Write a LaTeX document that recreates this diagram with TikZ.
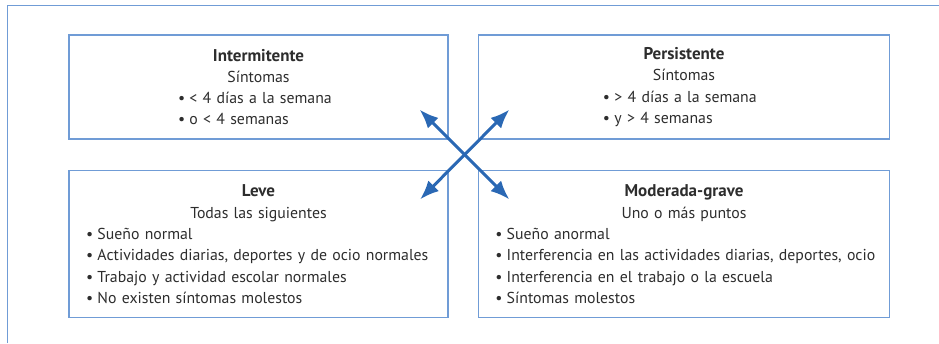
\documentclass[tikz,border=0pt]{standalone}
\usepackage{fontspec}
\setmainfont{PT Sans}
\usepackage{tikz}
\usepackage{xcolor}
\usetikzlibrary{arrows.meta}
\setlength{\parindent}{0pt}
\definecolor{boxblue}{RGB}{112,156,214}
\definecolor{arrowblue}{RGB}{42,104,180}
\definecolor{textgray}{RGB}{45,45,45}
\newcommand{\punto}{\hspace*{11pt}\makebox[11.5pt][l]{\textbullet}}
\newcommand{\titulo}[1]{{\fontsize{17}{21.3}\selectfont\bfseries #1}}

\begin{document}
\begin{tikzpicture}[-,>={Latex[length=19pt,width=15pt]},node distance=425.5pt,
                    box node/.style={rectangle,draw=boxblue,line width=1.2pt,inner sep=0pt,inner xsep=6pt,
                                     text=textgray,align=left,font=\fontsize{15.8}{21.3}\selectfont}]

  \useasboundingbox (0,0) rectangle (939pt,-343pt);
  \draw[boxblue,line width=1.2pt] (7.5pt,-343pt) -- (7.5pt,-5.5pt) -- (939pt,-5.5pt);

  \node[box node,text width=367pt,minimum height=104pt] (1) at (258.5pt,-87pt)
    {{\centering\titulo{Intermitente}\\Síntomas\par}
     {\leftskip=92pt \punto< 4 días a la semana\\\punto o < 4 semanas\par}};
  \node[box node,text width=399.5pt,minimum height=104pt] (2) [right of=1]
    {{\centering\titulo{Persistente}\\Síntomas\par}
     {\leftskip=107.7pt \punto> 4 días a la semana\\\punto y > 4 semanas\par}};
  \node[box node,text width=367pt,minimum height=147pt] (3) [below of=1,node distance=157.2pt]
    {{\centering\titulo{Leve}\\Todas las siguientes\par}
     \punto Sueño normal\\
     \punto Actividades diarias, deportes y de ocio normales\\
     \punto Trabajo y actividad escolar normales\\
     \punto No existen síntomas molestos};
  \node[box node,text width=399.5pt,minimum height=147pt] (4) [right of=3]
    {{\centering\titulo{Moderada-grave}\\Uno o más puntos\par}
     \punto Sueño anormal\\
     \punto Interferencia en las actividades diarias, deportes, ocio\\
     \punto Interferencia en el trabajo o la escuela\\
     \punto Síntomas molestos};

  \coordinate (a) at ([xshift=-29pt,yshift=30pt]1.south east);
  \coordinate (b) at ([xshift=31.7pt,yshift=30pt]2.south west);
  \coordinate (c) at ([xshift=-28.5pt,yshift=-29.3pt]3.north east);
  \coordinate (d) at ([xshift=31.7pt,yshift=-29.3pt]4.north west);

  \draw[<->,arrowblue,line width=3pt] (a) -- (d);
  \draw[<->,arrowblue,line width=3pt] (b) -- (c);
\end{tikzpicture}
\end{document}
